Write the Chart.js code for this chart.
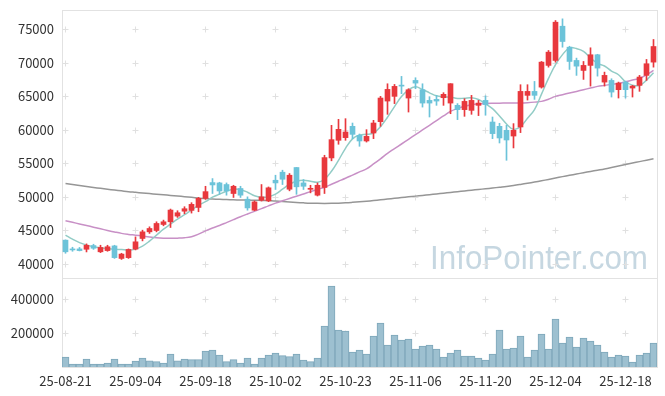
<!DOCTYPE html>
<html>
<head>
<meta charset="utf-8">
<script src="https://cdn.jsdelivr.net/npm/chart.js@4.4.1/dist/chart.umd.min.js"></script>
<style>
  html, body { margin: 0; padding: 0; background: #fff; }
</style>
</head>
<body>
<canvas id="stock-chart" width="665" height="396"></canvas>
<script>
// trading days
const dates = [
  '25-08-21','25-08-22','25-08-25','25-08-26','25-08-27','25-08-28','25-08-29','25-09-01','25-09-02','25-09-03',
  '25-09-04','25-09-05','25-09-08','25-09-09','25-09-10','25-09-11','25-09-12','25-09-15','25-09-16','25-09-17',
  '25-09-18','25-09-19','25-09-22','25-09-23','25-09-24','25-09-25','25-09-26','25-09-29','25-09-30','25-10-01',
  '25-10-02','25-10-10','25-10-13','25-10-14','25-10-15','25-10-16','25-10-17','25-10-20','25-10-21','25-10-22',
  '25-10-23','25-10-24','25-10-27','25-10-28','25-10-29','25-10-30','25-10-31','25-11-03','25-11-04','25-11-05',
  '25-11-06','25-11-07','25-11-10','25-11-11','25-11-12','25-11-13','25-11-14','25-11-17','25-11-18','25-11-19',
  '25-11-20','25-11-21','25-11-24','25-11-25','25-11-26','25-11-27','25-11-28','25-12-01','25-12-02','25-12-03',
  '25-12-04','25-12-05','25-12-08','25-12-09','25-12-10','25-12-11','25-12-12','25-12-15','25-12-16','25-12-17',
  '25-12-18','25-12-19','25-12-22','25-12-23','25-12-24'
];

const opens = [
  43560,42250,42250,42200,42750,41820,42000,42700,40830,40950,
  42220,43810,44800,45000,45900,46300,47150,47880,48000,48440,
  49800,52150,52100,51860,50520,51270,49670,48030,49520,49420,
  52500,53700,51160,54400,52100,51150,50270,51420,55830,58460,
  58860,60550,59200,58360,59550,61240,64320,65020,66700,64770,
  67400,66010,64420,64570,64820,64020,63680,63040,62930,63680,
  64420,61190,60550,59950,59100,60450,65170,65760,66400,69640,
  70380,75490,72360,70380,68890,69640,71230,67150,67400,66020,
  67150,66260,66660,68150,70130
];
const highs = [
  43600,42500,42470,43000,42950,42800,42800,42800,41600,42250,
  44050,45050,45550,46300,46550,48200,47950,48550,49150,49950,
  51600,52750,52200,52100,51750,51600,50020,49420,51860,51500,
  53250,54000,53500,54400,52600,51750,52100,56230,60700,61590,
  61690,61040,59400,60050,61440,65020,66900,66800,68000,66160,
  67800,66900,64970,65170,65570,66910,63940,64670,65170,64420,
  65100,61940,61000,60700,60950,66760,66760,67250,70230,71870,
  76340,76590,72500,70730,70230,72270,71300,68640,67650,67150,
  67300,66660,68150,70530,73510
];
const lows = [
  41600,41900,41950,41800,42180,41700,41900,40830,40680,40830,
  42100,43450,44560,44800,45700,45450,46950,47500,47600,47800,
  49650,50520,50400,50270,49930,49930,48030,47950,49400,49300,
  51120,51860,50920,50400,51120,50620,50150,50520,55400,57870,
  58460,58710,57570,58200,58710,60550,62340,63940,65420,62680,
  66160,63420,61940,63680,63680,62430,61550,62040,62340,62150,
  62200,58710,58060,55480,57320,59610,64470,64570,66250,69380,
  70130,72360,69040,68150,67550,66550,68040,66550,64920,64770,
  64770,64920,65770,67400,69380
];
const closes = [
  41820,42100,42000,42800,42350,42470,42570,40950,41480,42170,
  43310,44800,45300,46050,46300,48050,47650,48250,48900,49800,
  50800,51800,50900,50900,51600,50270,48370,49270,50020,51370,
  52100,52650,53250,51520,51600,51300,51750,55880,58560,60100,
  59700,59350,58360,59050,61040,64770,66060,66510,66550,66010,
  67000,64020,64020,64320,65320,66910,63040,64270,64420,64020,
  63790,59460,58810,58510,59950,65760,65760,65170,70130,71620,
  76090,73210,70230,69530,69640,71230,69240,68150,65660,67000,
  66020,66560,67900,69890,72460
];
const volumes = [
  58800,17600,17600,47000,17600,17600,23500,47000,17600,17600,
  35300,53000,37000,31200,23500,76500,37000,47000,43000,43000,
  94100,100000,70600,31200,43000,23500,53000,17600,53000,70600,
  82300,66500,60600,76500,41200,31200,53000,241000,476000,217600,
  211800,88200,100000,76500,182300,258800,129400,188200,158800,164700,
  105900,123500,129400,105900,58800,82300,100000,64700,64700,53000,
  41200,76500,217600,105900,111800,182300,58800,100000,194100,105900,
  282300,141200,176500,117600,170600,152900,129400,88200,58800,70600,
  64700,29400,70600,82300,141200
];

// moving averages
const ma5 = [
  44300,43700,43190,42820,42590,42440,42320,42220,42150,42070,
  42220,42670,43410,44300,45200,45940,46690,47360,48030,48780,
  49300,49970,50420,50860,51160,51090,50710,50190,49970,50040,
  50420,51160,51900,52350,52500,52350,52200,52650,53840,55480,
  57270,58680,59250,59350,59550,60500,61900,63500,65000,66000,
  66450,66050,65550,65100,64950,64900,64700,64750,64800,64550,
  63900,63200,62100,60900,60100,60500,61750,63050,65350,67700,
  69750,71250,72250,72150,71750,70750,69950,69550,68800,68250,
  67200,66700,66650,67450,68550
];
const ma20 = [
  46460,46220,45980,45740,45500,45250,45010,44780,44570,44420,
  44300,44170,44030,43920,43860,43840,43860,43920,44080,44450,
  44950,45380,45750,46180,46620,47050,47460,47860,48260,48680,
  49080,49430,49780,50120,50450,50800,51130,51460,51900,52350,
  52800,53270,53740,54210,54930,55700,56520,57220,57910,58610,
  59300,60000,60700,61400,62100,62780,63200,63530,63760,63900,
  63970,64000,64010,64020,64020,64030,64080,64160,64270,64600,
  65020,65270,65520,65760,66010,66260,66510,66660,66810,66950,
  67200,67450,67700,68250,68890
];
const ma120 = [
  52000,51850,51700,51560,51420,51290,51160,51040,50920,50800,
  50700,50600,50510,50420,50330,50240,50150,50050,49950,49850,
  49760,49700,49650,49610,49580,49560,49540,49520,49490,49460,
  49400,49330,49260,49190,49130,49080,49050,49040,49050,49080,
  49130,49200,49280,49370,49470,49580,49690,49800,49910,50020,
  50130,50240,50350,50460,50570,50680,50790,50900,51010,51120,
  51230,51340,51460,51580,51720,51880,52050,52230,52420,52620,
  52830,53040,53240,53430,53620,53810,54000,54190,54400,54620,
  54840,55060,55280,55500,55720
];

const priceTicks = [40000, 45000, 50000, 55000, 60000, 65000, 70000, 75000];
const volumeTicks = [200000, 400000];

const upColor = '#e8383d';
const downColor = '#6cc3d9';
const candleColors = closes.map((c, i) => c >= opens[i] ? upColor : downColor);

Chart.defaults.font.family = "'Noto Sans CJK KR', 'Noto Sans', sans-serif";
Chart.defaults.font.size = 13;
Chart.defaults.color = '#333';

// frame, "+" grid marks and watermark
const backdrop = {
  id: 'backdrop',
  beforeDatasetsDraw(chart) {
    const ctx = chart.ctx;
    const x = chart.scales.x, y = chart.scales.y, yv = chart.scales.yv;
    const area = chart.chartArea;
    ctx.save();
    ctx.font = "34px 'Liberation Sans', sans-serif";
    ctx.fillStyle = '#c6d7e1';
    ctx.textBaseline = 'alphabetic';
    ctx.fillText('InfoPointer.com', 430, 269, 218);

    ctx.strokeStyle = '#e0e0e0';
    ctx.lineWidth = 1;
    const marks = [];
    priceTicks.forEach(v => marks.push(y.getPixelForValue(v)));
    volumeTicks.forEach(v => marks.push(yv.getPixelForValue(v)));
    dates.forEach((d, i) => {
      if (i % 10 !== 0) return;
      const px = Math.round(x.getPixelForValue(i)) - 0.5;
      marks.forEach(py => {
        py = Math.round(py) + 0.5;
        ctx.beginPath();
        ctx.moveTo(px - 3, py); ctx.lineTo(px + 3, py);
        ctx.moveTo(px, py - 3); ctx.lineTo(px, py + 3);
        ctx.stroke();
      });
    });

    ctx.strokeStyle = '#e2e2e2';
    ctx.strokeRect(Math.round(area.left) + 0.5, Math.round(area.top) + 0.5,
      Math.round(area.right - area.left), Math.round(area.bottom - area.top));
    const sep = Math.round(yv.top) + 0.5;
    ctx.beginPath();
    ctx.moveTo(area.left, sep); ctx.lineTo(area.right, sep);
    ctx.stroke();
    ctx.restore();
  }
};

// fixed axis sizes so the plot sits where the reference has it
const fitY = (a) => { a.width = 62; a.paddingTop = 0; a.paddingBottom = 0; };

const stockChart = document.getElementById('stock-chart');
new Chart(stockChart, {
  type: 'bar',
  data: {
    labels: dates,
    datasets: [
      {
        label: 'MA120',
        type: 'line',
        data: ma120,
        yAxisID: 'y',
        borderColor: '#969696',
        borderWidth: 1.5,
        pointRadius: 0,
        tension: 0.4,
        order: 5
      },
      {
        label: 'MA20',
        type: 'line',
        data: ma20,
        yAxisID: 'y',
        borderColor: '#c890c6',
        borderWidth: 1.5,
        pointRadius: 0,
        tension: 0.4,
        order: 4
      },
      {
        label: 'MA5',
        type: 'line',
        data: ma5,
        yAxisID: 'y',
        borderColor: '#92ccc6',
        borderWidth: 1.5,
        pointRadius: 0,
        tension: 0.4,
        order: 3
      },
      {
        label: 'wick',
        data: lows.map((l, i) => [l, highs[i]]),
        yAxisID: 'y',
        backgroundColor: candleColors,
        barThickness: 1,
        grouped: false,
        order: 2
      },
      {
        label: 'body',
        data: opens.map((o, i) => [o, closes[i]]),
        yAxisID: 'y',
        backgroundColor: candleColors,
        barThickness: 5,
        grouped: false,
        order: 1
      },
      {
        label: 'volume',
        data: volumes,
        yAxisID: 'yv',
        backgroundColor: '#9dc0d0',
        borderColor: '#7ea7ba',
        borderWidth: 1,
        barPercentage: 1,
        categoryPercentage: 1,
        grouped: false,
        order: 6
      }
    ]
  },
  options: {
    responsive: false,
    animation: false,
    layout: { padding: { top: 10, right: 8, left: 0, bottom: 0 } },
    plugins: {
      legend: { display: false },
      tooltip: { enabled: false }
    },
    scales: {
      x: {
        offset: true,
        grid: { display: false, drawTicks: false },
        border: { display: false },
        ticks: {
          autoSkip: false,
          maxRotation: 0,
          padding: 6,
          callback: (v, i) => i % 10 === 0 ? dates[i] : ''
        },
        afterFit: (a) => { a.height = 29; a.paddingLeft = 0; a.paddingRight = 0; }
      },
      yv: {
        position: 'left',
        stack: 'panel',
        stackWeight: 89,
        min: 0,
        max: 523500,
        grid: { display: false, drawTicks: false },
        border: { display: false },
        ticks: { padding: 8, callback: (v) => String(v) },
        afterBuildTicks: (s) => { s.ticks = volumeTicks.map(v => ({ value: v })); },
        afterFit: fitY
      },
      y: {
        position: 'left',
        stack: 'panel',
        stackWeight: 268,
        min: 37910,
        max: 77910,
        grid: { display: false, drawTicks: false },
        border: { display: false },
        ticks: { padding: 8, callback: (v) => String(v) },
        afterBuildTicks: (s) => { s.ticks = priceTicks.map(v => ({ value: v })); },
        afterFit: fitY
      }
    }
  },
  plugins: [backdrop]
});
</script>
</body>
</html>
